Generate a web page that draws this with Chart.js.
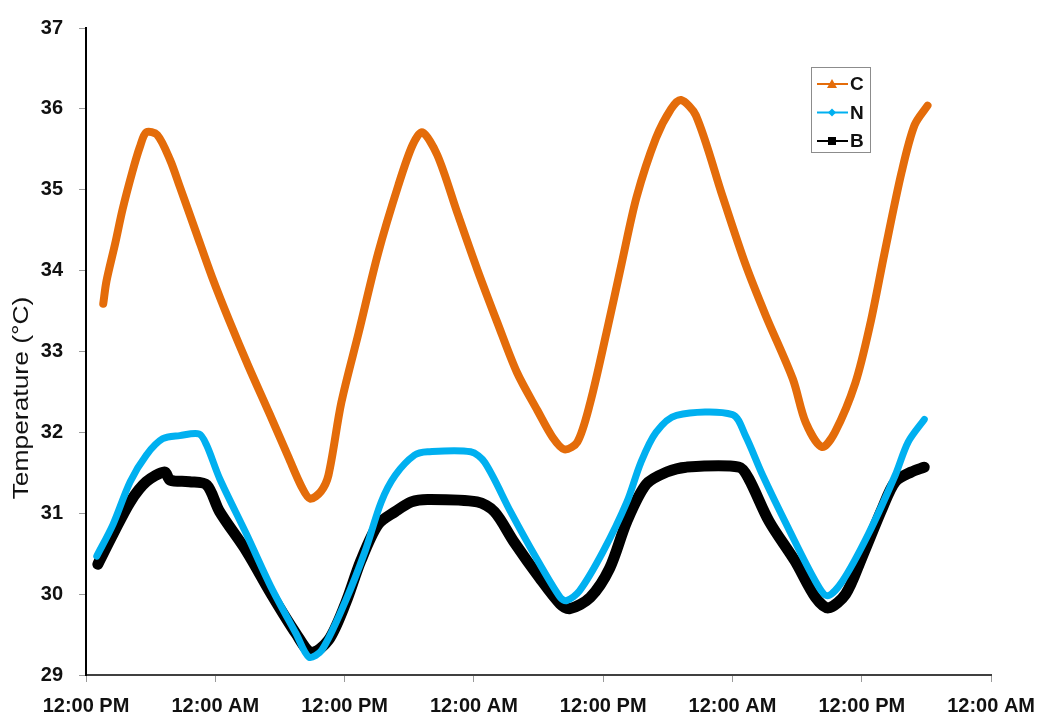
<!DOCTYPE html>
<html>
<head>
<meta charset="utf-8">
<script src="https://cdn.jsdelivr.net/npm/chart.js@4.4.1/dist/chart.umd.min.js"></script>
<style>
  html, body { margin: 0; padding: 0; background: #fff; }
  #wrap { position: relative; width: 1047px; height: 719px; }
</style>
</head>
<body>
<div id="wrap"><canvas id="chart"></canvas></div>
<script>
// ── Data (hours since first 12:00 PM, °C) ─────────────
const X_TICK_LABELS = ['12:00 PM','12:00 AM','12:00 PM','12:00 AM','12:00 PM','12:00 AM','12:00 PM','12:00 AM'];

const hoursC = [1.6, 1.9, 2.7, 3.4, 4.3, 5.0, 5.6, 6.6, 7.8, 8.7, 10.2, 11.7, 13.3, 15.1, 17.0, 18.8, 20.0, 20.8, 21.8, 22.5, 23.7, 25.3, 27.1, 29.0, 30.3, 31.2, 32.6, 34.5, 36.3, 38.2, 40.0, 41.9, 43.3, 44.4, 45.6, 46.8, 48.3, 49.7, 51.1, 52.9, 54.3, 55.2, 56.6, 59.1, 61.2, 63.1, 65.6, 66.8, 68.3, 69.5, 71.4, 72.8, 74.1, 75.7, 76.9, 78.1];
const tempC  = [33.59, 33.87, 34.33, 34.76, 35.22, 35.53, 35.71, 35.68, 35.37, 35.04, 34.48, 33.92, 33.38, 32.81, 32.24, 31.69, 31.33, 31.18, 31.27, 31.47, 32.37, 33.23, 34.21, 35.06, 35.55, 35.71, 35.43, 34.70, 34.02, 33.35, 32.74, 32.27, 31.94, 31.79, 31.88, 32.37, 33.23, 34.08, 34.91, 35.64, 36.00, 36.11, 35.92, 34.91, 34.08, 33.44, 32.66, 32.12, 31.82, 32.00, 32.61, 33.35, 34.21, 35.22, 35.80, 36.04];

const hoursN = [1.0, 2.5, 4.1, 5.6, 7.1, 8.7, 10.5, 11.2, 12.4, 14.9, 17.2, 19.5, 20.7, 21.9, 24.1, 25.9, 27.4, 28.7, 30.5, 31.7, 35.7, 37.0, 39.4, 41.6, 44.0, 44.6, 45.8, 48.0, 50.2, 51.5, 52.9, 54.8, 60.0, 61.2, 62.8, 65.2, 67.7, 68.8, 70.2, 72.6, 75.1, 76.3, 77.8];
const tempN  = [30.47, 30.86, 31.39, 31.72, 31.92, 31.96, 31.98, 31.84, 31.43, 30.74, 30.08, 29.51, 29.22, 29.31, 29.92, 30.53, 31.14, 31.47, 31.72, 31.76, 31.76, 31.63, 31.02, 30.49, 29.96, 29.92, 30.04, 30.53, 31.14, 31.63, 32.00, 32.21, 32.22, 31.96, 31.47, 30.81, 30.16, 29.98, 30.16, 30.74, 31.47, 31.88, 32.16];

const hoursB = [1.1, 2.5, 4.1, 5.6, 7.3, 7.8, 9.6, 11.2, 12.4, 14.9, 17.2, 19.5, 20.9, 22.5, 24.1, 25.5, 27.1, 28.7, 30.2, 31.7, 36.3, 37.9, 39.7, 42.1, 44.0, 44.9, 46.8, 48.6, 50.2, 52.0, 53.9, 55.7, 60.6, 61.5, 63.4, 65.8, 67.7, 68.9, 70.5, 72.0, 73.9, 75.1, 76.6, 77.8];
const tempB  = [30.37, 30.74, 31.14, 31.39, 31.51, 31.41, 31.39, 31.35, 31.02, 30.53, 30.00, 29.51, 29.28, 29.43, 29.89, 30.41, 30.86, 31.02, 31.14, 31.17, 31.14, 31.02, 30.65, 30.20, 29.88, 29.82, 29.96, 30.32, 30.90, 31.36, 31.51, 31.57, 31.57, 31.43, 30.90, 30.41, 29.96, 29.83, 30.00, 30.45, 31.06, 31.39, 31.51, 31.57];

const SERIES = [
  { label: 'C', hours: hoursC, temps: tempC, color: '#E46C0A', width: 8,  marker: 'triangle' },
  { label: 'N', hours: hoursN, temps: tempN, color: '#00B0F0', width: 7,  marker: 'diamond' },
  { label: 'B', hours: hoursB, temps: tempB, color: '#000000', width: 11, marker: 'square' },
];

const FONT = 'Liberation Sans, Arial, sans-serif';
const TEXT = '#111111';

// ── Custom legend box (line + marker, like the original) ──
const legendBox = {
  id: 'legendBox',
  afterDraw(chart) {
    const ctx = chart.ctx;
    const left = 811, top = 67, w = 59, h = 85;
    ctx.save();
    ctx.strokeStyle = '#8c8c8c';
    ctx.lineWidth = 1;
    ctx.strokeRect(left + 0.5, top + 0.5, w, h);
    SERIES.forEach((s, i) => {
      const y = top + 17 + i * 28.5;
      ctx.strokeStyle = s.color;
      ctx.lineWidth = 2;
      ctx.beginPath();
      ctx.moveTo(left + 6, y);
      ctx.lineTo(left + 37, y);
      ctx.stroke();
      ctx.fillStyle = s.color;
      const cx = left + 21;
      ctx.beginPath();
      if (s.marker === 'triangle') {
        ctx.moveTo(cx, y - 5); ctx.lineTo(cx + 5, y + 4); ctx.lineTo(cx - 5, y + 4);
      } else if (s.marker === 'diamond') {
        ctx.moveTo(cx, y - 4); ctx.lineTo(cx + 4, y); ctx.lineTo(cx, y + 4); ctx.lineTo(cx - 4, y);
      } else {
        ctx.rect(cx - 4, y - 4, 8, 8);
      }
      ctx.closePath();
      ctx.fill();
      ctx.fillStyle = TEXT;
      ctx.font = 'bold 19px ' + FONT;
      ctx.textBaseline = 'middle';
      ctx.fillText(s.label, left + 39, y + 1);
    });
    ctx.restore();
  },
};

// ── Rotated y-axis title, sits a bit low like the source ──
const yTitle = {
  id: 'yTitle',
  afterDraw(chart) {
    const ctx = chart.ctx;
    ctx.save();
    ctx.translate(22, 398);
    ctx.rotate(-Math.PI / 2);
    ctx.scale(1.2, 1);
    ctx.font = '22px ' + FONT;
    ctx.fillStyle = TEXT;
    ctx.textAlign = 'center';
    ctx.textBaseline = 'middle';
    ctx.fillText('Temperature (°C)', 0, 0);
    ctx.restore();
  },
};

new Chart(document.getElementById('chart'), {
  type: 'line',
  data: {
    datasets: SERIES.map(s => ({
      label: s.label,
      data: s.hours.map((h, i) => ({ x: h, y: s.temps[i] })),
      borderColor: s.color,
      backgroundColor: s.color,
      borderWidth: s.width,
      pointRadius: 0,
      tension: 0.3,
      borderCapStyle: 'round',
      borderJoinStyle: 'round',
      fill: false,
    })),
  },
  options: {
    responsive: true,
    maintainAspectRatio: false,
    animation: false,
    layout: { padding: { left: 0, top: 22, right: 50, bottom: 0 } },
    plugins: {
      legend: { display: false },
      tooltip: { enabled: false },
    },
    scales: {
      x: {
        type: 'linear',
        min: 0, max: 84,
        afterBuildTicks: scale => { scale.ticks = X_TICK_LABELS.map((_, i) => ({ value: i * 12 })); },
        afterFit: scale => { scale.height = 44; },
        border: { display: true, color: '#404040', width: 2 },
        grid: { drawOnChartArea: false, drawTicks: true, tickLength: 7, color: '#9a9a9a' },
        ticks: {
          autoSkip: false, maxRotation: 0, padding: 12,
          color: TEXT, font: { family: FONT, size: 20, weight: 'bold' },
          callback: (v, i) => X_TICK_LABELS[i],
        },
      },
      y: {
        min: 29, max: 37,
        afterFit: scale => { scale.width = 86; },
        border: { display: true, color: '#000', width: 2 },
        grid: { drawOnChartArea: false, drawTicks: true, tickLength: 7, color: '#9a9a9a' },
        ticks: {
          stepSize: 1, padding: 16,
          color: TEXT, font: { family: FONT, size: 20, weight: 'bold' },
        },
      },
    },
  },
  plugins: [legendBox, yTitle],
});
</script>
</body>
</html>
